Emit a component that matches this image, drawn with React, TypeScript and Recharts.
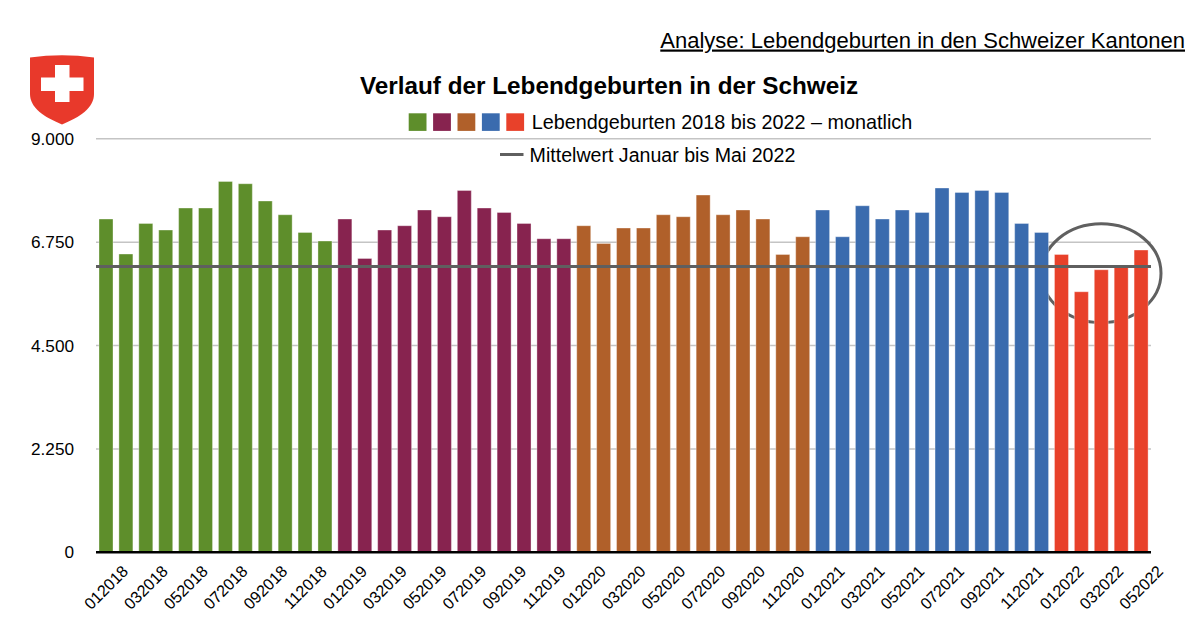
import { Bar, BarChart, CartesianGrid, Cell, ReferenceArea, ReferenceLine, XAxis, YAxis } from "recharts";

// Monthly live births
const years = ["2018", "2019", "2020", "2021", "2022"];
const months = ["01", "02", "03", "04", "05", "06", "07", "08", "09", "10", "11", "12"];
const yearColors = ["#5E8E2B", "#87234F", "#B0602A", "#3A6BAE", "#E8412A"];

const births2018 = [7254, 6492, 7158, 7014, 7493, 7493, 8072, 8022, 7646, 7347, 6962, 6775];
const births2019 = [7254, 6396, 7014, 7108, 7450, 7304, 7876, 7493, 7397, 7158, 6825, 6825];
const births2020 = [7108, 6723, 7058, 7058, 7347, 7304, 7776, 7347, 7450, 7254, 6483, 6868];
const births2021 = [7450, 6868, 7543, 7254, 7450, 7397, 7929, 7833, 7876, 7833, 7158, 6962];
const births2022 = [6483, 5671, 6150, 6222, 6579];

const yTicks = [0, 2250, 4500, 6750, 9000];

const seriesByYear = [births2018, births2019, births2020, births2021, births2022];
const data = seriesByYear.flatMap((values, yi) =>
  values.map((v, mi) => ({ month: months[mi] + years[yi], births: v, yearIndex: yi }))
);

// average Jan–May 2022
const mean2022 = births2022.reduce((a, b) => a + b, 0) / births2022.length;

const FONT = "'Liberation Sans', Arial, sans-serif";

const formatThousands = (v: number) => String(v).replace(/\B(?=(\d{3})+(?!\d))/g, ".");

const MonthTick = (props: any) => {
  const { x, y, payload } = props;
  const cy = y + 35;
  return (
    <text
      x={x}
      y={cy + 5.8}
      textAnchor="middle"
      fontSize={16.2}
      fill="#000"
      transform={`rotate(-45, ${x}, ${cy})`}
    >
      {payload.value}
    </text>
  );
};

const Ellipse = (props: any) => {
  const { x, y, width, height } = props;
  return (
    <ellipse
      cx={x + width / 2}
      cy={y + height / 2}
      rx={width / 2 + 10}
      ry={height / 2}
      fill="none"
      stroke="#606060"
      strokeWidth={3}
    />
  );
};

const Shield = () => (
  <g>
    <path
      d="M30,57.5 Q62,53 94,57.5 L94,94 C94,108 80,117 62,124.5 C44,117 30,108 30,94 Z"
      fill="#E8392B"
    />
    <rect x={55} y={65} width={14.5} height={37} fill="#fff" />
    <rect x={41} y={77.5} width={42.5} height={13.5} fill="#fff" />
  </g>
);

export default function App() {
  return (
    <div style={{ position: "absolute", left: 0, top: 0, width: 1200, height: 619, background: "#fff", fontFamily: FONT }}>
      <BarChart
        width={1200}
        height={619}
        data={data}
        margin={{ top: 138.8, right: 49, bottom: 26.7, left: 36 }}
      >
        <CartesianGrid vertical={false} stroke="#c4c4c4" strokeWidth={1.5} />
        <XAxis
          dataKey="month"
          interval={1}
          height={40}
          tickLine={false}
          tickSize={0}
          tickMargin={0}
          axisLine={{ stroke: "#000", strokeWidth: 2.5 }}
          tick={<MonthTick />}
        />
        <YAxis
          width={60}
          domain={[0, 9000]}
          ticks={yTicks}
          axisLine={false}
          tickLine={false}
          tickSize={0}
          tickMargin={22}
          tick={{ fontSize: 17.2, fill: "#000" }}
          tickFormatter={formatThousands}
        />
        <Bar dataKey="births" barSize={14} isAnimationActive={false}>
          {data.map((d) => (
            <Cell
              key={d.month}
              fill={yearColors[d.yearIndex]}
              stroke="#ffffff"
              strokeOpacity={0.35}
              strokeWidth={1}
            />
          ))}
        </Bar>
        <ReferenceLine y={mean2022} stroke="#5f5f5f" strokeWidth={3} />
        <ReferenceArea x1="012022" x2="052022" y1={5000} y2={7150} shape={<Ellipse />} />
      </BarChart>

      <svg
        width={1200}
        height={619}
        style={{ position: "absolute", left: 0, top: 0, pointerEvents: "none", fontFamily: FONT }}
      >
        <Shield />
        <text x={1185} y={47.5} textAnchor="end" fontSize={22} fill="#000" style={{ textDecoration: "underline" }}>
          Analyse: Lebendgeburten in den Schweizer Kantonen
        </text>
        <text x={609} y={94.3} textAnchor="middle" fontSize={24.3} fontWeight="bold" fill="#000">
          Verlauf der Lebendgeburten in der Schweiz
        </text>
        {yearColors.map((c, i) => (
          <rect key={c} x={408.7 + i * 24.4} y={113.3} width={17.8} height={17.6} fill={c} />
        ))}
        <text x={531.7} y={129.3} fontSize={19.8} fill="#000">
          Lebendgeburten 2018 bis 2022 – monatlich
        </text>
        <line x1={500} x2={523.5} y1={154.5} y2={154.5} stroke="#5f5f5f" strokeWidth={3} />
        <text x={529.6} y={161.7} fontSize={19.6} fill="#000">
          Mittelwert Januar bis Mai 2022
        </text>
      </svg>
    </div>
  );
}
